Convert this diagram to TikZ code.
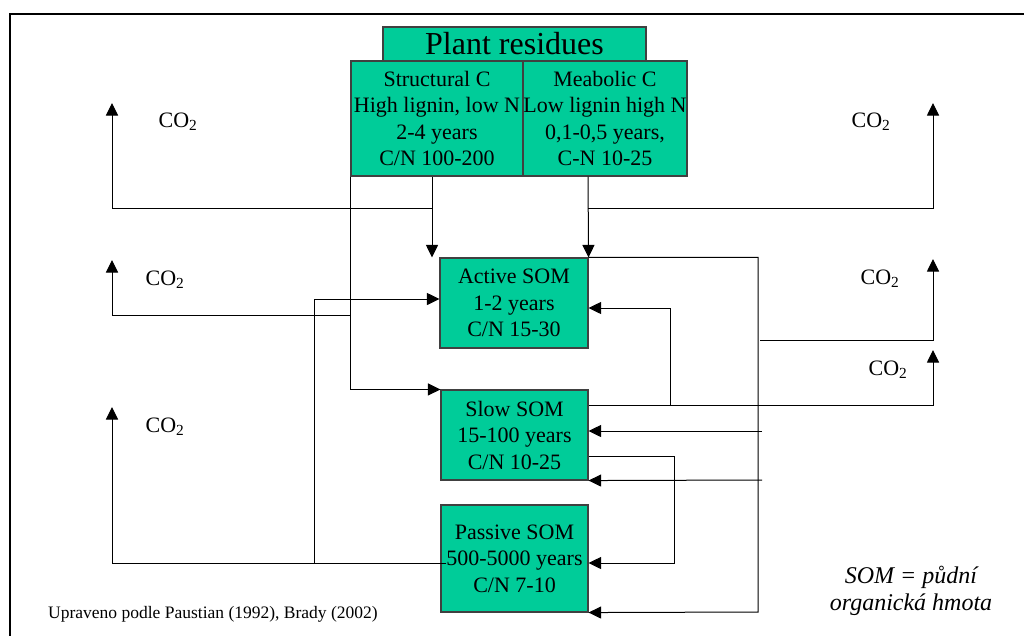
\documentclass[tikz,border=0pt]{standalone}
\usepackage{fontspec}
\setmainfont{Liberation Serif}
\usetikzlibrary{arrows.meta}
\definecolor{somgreen}{HTML}{00CC99}
\begin{document}
\begin{tikzpicture}[x=1pt,y=-1pt,
  box/.style={draw=black!75, line width=1.1pt, fill=somgreen, align=center, inner sep=0pt, font=\fontsize{22}{26.5}\selectfont},
  conn/.style={line width=1pt},
  arr/.style={conn, -{Triangle[length=12.5pt,width=12pt]}},
  lbl/.style={font=\fontsize{22}{26}\selectfont, inner sep=0pt}]
\useasboundingbox (0,0) rectangle (1024,635);
\clip (0,0) rectangle (1024,635);
\fill[white] (0,0) rectangle (1024,635);
\draw[line width=2pt] (10,14) rectangle (1060,670);

% boxes
\node[box, minimum width=263pt, minimum height=34pt, font=\fontsize{32}{36}\selectfont] (plant) at (514.5,44) {Plant residues};
\node[box, minimum width=172pt, minimum height=115pt] (struct) at (437,118.5) {Structural C\\High lignin, low N\\2-4 years\\C/N 100-200};
\node[box, minimum width=164pt, minimum height=115pt] (metab) at (605,118.5) {Meabolic C\\Low lignin high N\\0,1-0,5 years,\\C-N 10-25};
\node[box, minimum width=148pt, minimum height=90pt] (active) at (514,303) {Active SOM\\1-2 years\\C/N 15-30};
\node[box, minimum width=147pt, minimum height=90pt] (slow) at (514.5,435) {Slow SOM\\15-100 years\\C/N 10-25};
\node[box, minimum width=147pt, minimum height=107pt] (passive) at (514.5,558.5) {Passive SOM\\500-5000 years\\C/N 7-10};

% free ends
\coordinate (tTL) at (112,103);
\coordinate (tTR) at (933,103);
\coordinate (tL2) at (112,260);
\coordinate (tL3) at (112,407);
\coordinate (tR2) at (933,259);
\coordinate (tR3) at (933,350);
\coordinate (jG) at (314,563);
\coordinate (jJ) at (760,340);
\coordinate (jL) at (670,406);
\coordinate (jM) at (762,431);
\coordinate (jN) at (762,480);
\coordinate (jO) at (674,563);
\coordinate (jI) at (758,612);

% connectors
\draw[arr] ([xshift=-5pt]struct.south) -- ([xshift=-82pt]active.north);
\draw[arr] ([xshift=-5pt,yshift=-32pt]struct.south) -| (tTL);
\draw[arr] ([xshift=-17pt]metab.south) -- (active.north east);
\draw[arr] ([xshift=-17pt,yshift=-32pt]metab.south) -| (tTR);
\draw[arr] (struct.south west) |- (slow.north west);
\draw[arr] ([yshift=-139pt]struct.south west) -| (tL2);
\draw[arr] (jG) |- ([yshift=4pt]active.west);
\draw[arr] ([xshift=6pt,yshift=-4.5pt]passive.west) -| (tL3);
\draw[arr] (active.north east) -| (jI) -- (passive.south east);
\draw[arr] (jJ) -| (tR2);
\draw[arr] ([yshift=-16pt]slow.north east) -| (tR3);
\draw[arr] (jL) |- ([yshift=-5pt]active.east);
\draw[arr] (jM) -- ([yshift=4pt]slow.east);
\draw[arr] (jN) -- (slow.south east);
\draw[arr] ([yshift=-21pt]slow.east) -| (jO) -- ([yshift=-4.5pt]passive.east);

% labels
\node[lbl] (c1) at (178,122) {CO\textsubscript{2}};
\node[lbl] (c2) at (871,122) {CO\textsubscript{2}};
\node[lbl] (c3) at (165,280) {CO\textsubscript{2}};
\node[lbl] (c4) at (880,279) {CO\textsubscript{2}};
\node[lbl] (c5) at (888,370) {CO\textsubscript{2}};
\node[lbl] (c6) at (165,427) {CO\textsubscript{2}};

\node[anchor=base west, font=\fontsize{17.5}{20}\selectfont, inner sep=0pt] (src) at (48,618) {Upraveno podle Paustian (1992), Brady (2002)};
\node[align=center, font=\itshape\fontsize{24}{27.5}\selectfont, inner sep=0pt] (def) at (911,591) {SOM = půdní\\organická hmota};
\end{tikzpicture}
\end{document}
